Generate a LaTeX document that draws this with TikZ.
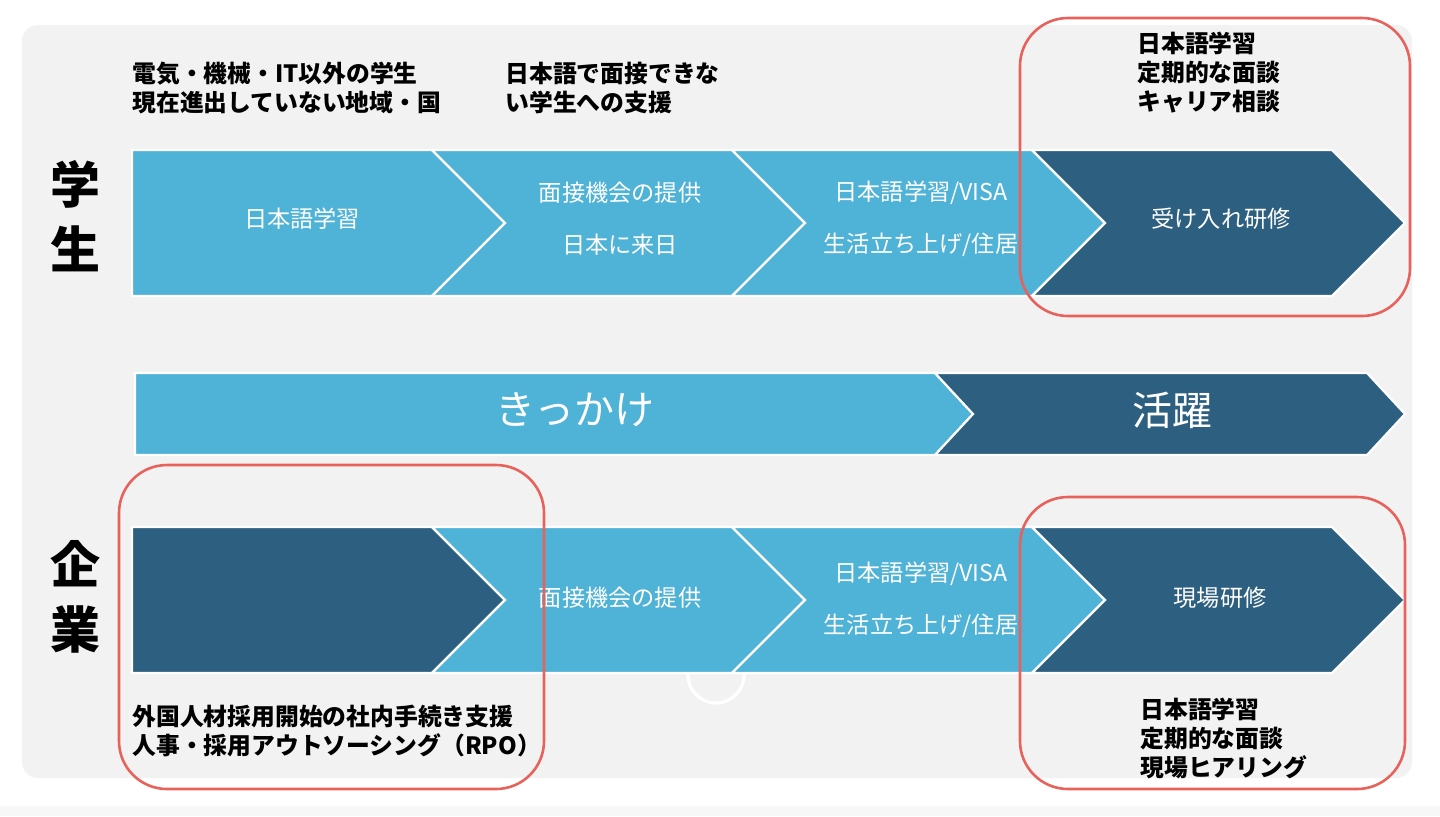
\documentclass[tikz,border=0pt]{standalone}
\usepackage{fontspec}
\setmainfont{Noto Sans CJK JP}
\definecolor{lblue}{HTML}{4FB2D7}
\definecolor{dblue}{HTML}{2D5F80}
\definecolor{bggray}{HTML}{F2F2F2}
\definecolor{hlred}{HTML}{E8625C}
\tikzset{
  chev/.style={draw=white, line width=1.1pt, line join=miter},
  lbl/.style={text=white, align=center, font=\fontsize{11.6}{26}\selectfont},
  note/.style={anchor=west, align=left, inner sep=0pt,
               font=\bfseries\fontsize{11.9}{14.5}\selectfont},
  side/.style={align=center, font=\bfseries\fontsize{25}{32.5}\selectfont},
  big/.style={text=white, font=\fontsize{20}{24}\selectfont},
  hl/.style={draw=hlred, line width=1.3pt, rounded corners=24pt},
}
% fill, x start, x body end, y top, y mid, y bottom, tip depth
\newcommand{\chevF}[7]{\path[chev, fill=#1] (#2,#4) -- (#3,#4) -- ({#3+#7},#5) -- (#3,#6) -- (#2,#6) -- cycle;}
\newcommand{\chevN}[7]{\path[chev, fill=#1] (#2,#4) -- (#3,#4) -- ({#3+#7},#5) -- (#3,#6) -- (#2,#6) -- ({#2+#7},#5) -- cycle;}

\begin{document}
\begin{tikzpicture}[x=0.5pt, y=-0.5pt]
  \useasboundingbox (0,0) rectangle (1440,816);
  \fill[white] (0,0) rectangle (1440,816);
  \fill[gray!6] (0,806) rectangle (1440,816);
  \fill[bggray, rounded corners=8pt] (22,25) rectangle (1412,778);

  % 学生 row
  \chevF{lblue}{132}{432}{150}{223}{296}{73}
  \chevN{lblue}{432}{732}{150}{223}{296}{73}
  \chevN{lblue}{732}{1032}{150}{223}{296}{73}
  \chevN{dblue}{1032}{1332}{150}{223}{296}{73}

  % middle bar
  \chevF{lblue}{135}{935}{373}{414}{455}{38}
  \chevN{dblue}{935}{1367}{373}{414}{455}{38}

  % 企業 row
  \draw[white, line width=1.6pt] (716,675) circle (28);
  \chevF{dblue}{132}{432}{527}{600}{673}{73}
  \chevN{lblue}{432}{732}{527}{600}{673}{73}
  \chevN{lblue}{732}{1032}{527}{600}{673}{73}
  \chevN{dblue}{1032}{1332}{527}{600}{673}{73}

  \node[side] (gakusei) at (75,216) {学\\生};
  \node[side] (kigyo) at (75,597) {企\\業};

  \node[lbl] (s1) at (302,219) {日本語学習};
  \node[lbl] (s2) at (620,219) {面接機会の提供\\日本に来日};
  \node[lbl] (s3) at (921,219) {日本語学習/VISA\\生活立ち上げ/住居};
  \node[lbl] (s4) at (1221,219) {受け入れ研修};

  \node[big] (kikkake) at (575,410) {きっかけ};
  \node[big] (katsuyaku) at (1172,410) {活躍};

  \node[lbl] (e2) at (620,598) {面接機会の提供};
  \node[lbl] (e3) at (921,600) {日本語学習/VISA\\生活立ち上げ/住居};
  \node[lbl] (e4) at (1220,598) {現場研修};

  \node[note] (ns1) at (132,88) {電気・機械・IT以外の学生\\現在進出していない地域・国};
  \node[note] (ns2) at (505,88) {日本語で面接できな\\い学生への支援};
  \node[note] (ns4) at (1137,73) {日本語学習\\定期的な面談\\キャリア相談};
  \node[note] (ne1) at (132,731) {外国人材採用開始の社内手続き支援\\人事・採用アウトソーシング（RPO）};
  \node[note] (ne4) at (1140,738) {日本語学習\\定期的な面談\\現場ヒアリング};

  \draw[hl] (1020,18) rectangle (1410,316);
  \draw[hl] (119,465) rectangle (544,789);
  \draw[hl] (1020,497) rectangle (1405,789);
\end{tikzpicture}
\end{document}
